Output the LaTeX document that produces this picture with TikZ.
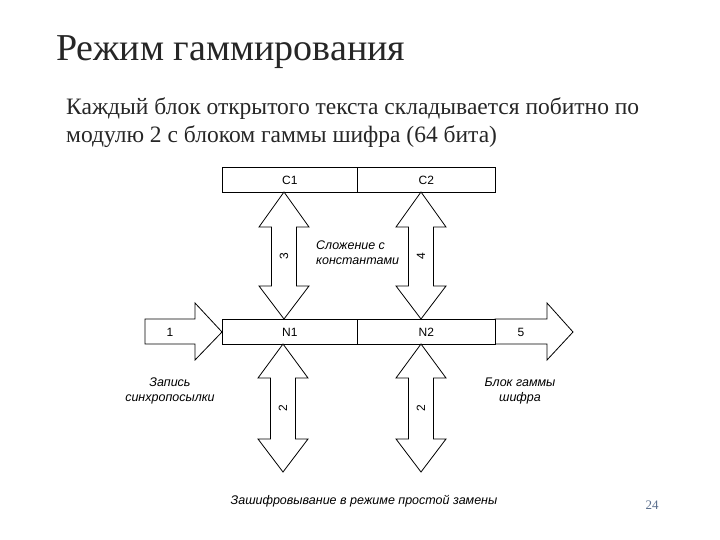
\documentclass[tikz,border=0pt]{standalone}
\usepackage{fontspec}
\setmainfont{Liberation Serif}
\newfontfamily\dsans{Liberation Sans}
\definecolor{pgnum}{RGB}{90,110,140}
\begin{document}
\begin{tikzpicture}[x=1pt,y=-1pt,
  shp/.style={draw=black,fill=white,line width=0.8pt,line join=miter},
  lbl/.style={font=\dsans\itshape\fontsize{12.5}{15}\selectfont,align=center,inner sep=0pt},
  num/.style={font=\dsans\fontsize{12}{13}\selectfont,inner sep=0pt}]
\useasboundingbox (0,0) rectangle (720,540);
\node[anchor=west,inner sep=0pt,font=\fontsize{38}{44}\selectfont,text=black!85] (title) at (56,52) {Режим гаммирования};
\node[anchor=north west,inner sep=0pt,align=left,font=\fontsize{23.5}{28}\selectfont,text=black!85] (body) at (66,97) {Каждый блок открытого текста складывается побитно по\\модулю 2 с блоком гаммы шифра (64 бита)};
% top register
\node[shp,minimum width=135pt,minimum height=25pt,anchor=north west,num] (c1) at (222,167) {C1};
\node[shp,minimum width=138pt,minimum height=25pt,anchor=north west,num] (c2) at (357,167) {C2};
% arrow 1
\draw[shp] (145,319) -- (195,319) -- (195,303) -- (222,332) -- (195,360) -- (195,344) -- (145,344) -- cycle;
\node[num] (l1) at (170,332) {1};
% arrow 5
\draw[shp] (495,319) -- (547,319) -- (547,303) -- (573,332) -- (547,360) -- (547,344) -- (495,344) -- cycle;
\node[num] (l5) at (521,332) {5};
% N register
\node[shp,minimum width=135pt,minimum height=25pt,anchor=north west,num] (n1) at (222,319) {N1};
\node[shp,minimum width=138pt,minimum height=25pt,anchor=north west,num] (n2) at (357,319) {N2};
% vertical double arrows
\foreach \cx/\ty/\hb/\lb/\by/\nm/\lab in {284/192/227/286/319/a3/3, 421/192/227/286/319/a4/4, 283/344/378/439/472/b1/2, 421/344/378/439/472/b2/2}{
  \draw[shp] (\cx,\ty) -- (\cx+25,\hb) -- (\cx+12.5,\hb) -- (\cx+12.5,\lb) -- (\cx+25,\lb) -- (\cx,\by)
    -- (\cx-25,\lb) -- (\cx-12.5,\lb) -- (\cx-12.5,\hb) -- (\cx-25,\hb) -- cycle;
  \node[num,rotate=90] (\nm) at (\cx,{(\hb+\lb)/2}) {\lab};
}
\node[lbl,align=left,anchor=west] (sl) at (316,253) {Сложение с\\константами};
\node[lbl] (zap) at (170,391) {Запись\\синхропосылки};
\node[lbl] (blk) at (520,391) {Блок гаммы\\шифра};
\node[lbl] (zash) at (364,501) {Зашифровывание в режиме простой замены};
\node[inner sep=0pt,font=\fontsize{13}{14}\selectfont,text=pgnum] (pg) at (652,505) {24};
\end{tikzpicture}
\end{document}
